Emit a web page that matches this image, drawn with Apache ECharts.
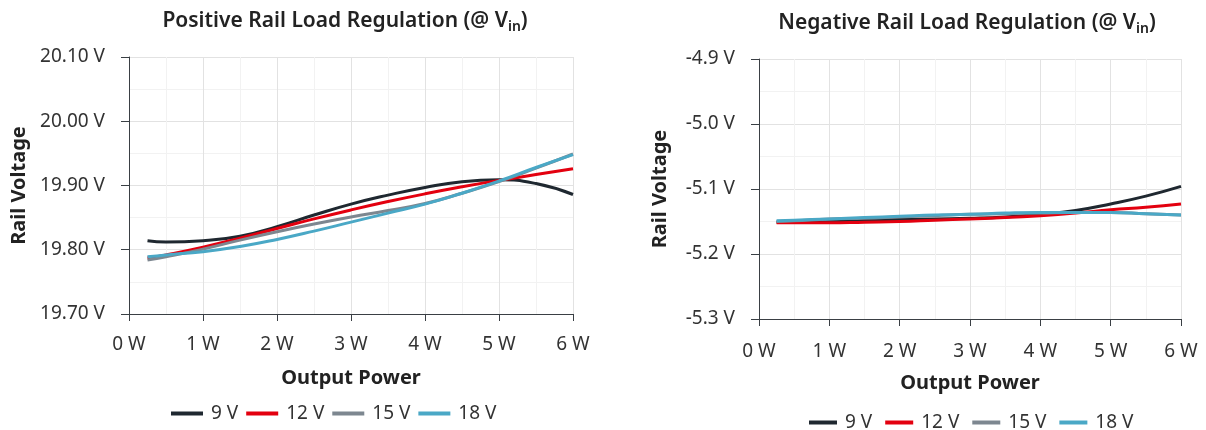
<!DOCTYPE html>
<html>
<head>
<meta charset="utf-8">
<script src="https://cdn.jsdelivr.net/npm/echarts@6/dist/echarts.min.js"></script>
<style>
  html, body { margin: 0; padding: 0; background: #fff; }
  #chart { width: 1206px; height: 430px; }
</style>
</head>
<body>
<div id="chart"></div>
<script>
// output power (W) sampled along the curves
const power = [0.25, 0.5, 1, 1.5, 2, 2.5, 3, 3.5, 4, 4.5, 5, 5.5, 6];
const seriesNames = ['9 V', '12 V', '15 V', '18 V'];
const colors = ['#1f2830', '#e3000f', '#7d8790', '#4aa8c6'];

// positive rail (V)
const pos9 = [19.814, 19.812, 19.814, 19.821, 19.836, 19.854, 19.871, 19.885, 19.897, 19.906, 19.909, 19.903, 19.886];
const pos12 = [19.787, 19.792, 19.804, 19.818, 19.833, 19.848, 19.862, 19.875, 19.887, 19.898, 19.908, 19.917, 19.926];
const pos15 = [19.784, 19.789, 19.801, 19.815, 19.828, 19.840, 19.851, 19.861, 19.872, 19.888, 19.906, 19.927, 19.949];
const pos18 = [19.789, 19.792, 19.797, 19.805, 19.816, 19.829, 19.843, 19.857, 19.871, 19.888, 19.907, 19.928, 19.948];

// negative rail (V)
const neg9 = [-5.151, -5.151, -5.150, -5.148, -5.147, -5.146, -5.145, -5.143, -5.139, -5.133, -5.123, -5.111, -5.096];
const neg12 = [-5.152, -5.152, -5.152, -5.151, -5.150, -5.148, -5.146, -5.144, -5.141, -5.137, -5.132, -5.128, -5.123];
const neg15 = [-5.150, -5.149, -5.146, -5.145, -5.143, -5.141, -5.139, -5.138, -5.137, -5.136, -5.136, -5.138, -5.140];
const neg18 = [-5.149, -5.148, -5.146, -5.144, -5.142, -5.140, -5.139, -5.137, -5.136, -5.136, -5.136, -5.138, -5.140];

const font = 'Noto Sans';
const txt = '#333';

function pairs(vals) {
  return power.map((p, i) => [p, vals[i]]);
}

function xAxisCfg(idx) {
  return {
    type: 'value', gridIndex: idx, min: 0, max: 6, interval: 1,
    name: 'Output Power', nameLocation: 'middle', nameGap: 54,
    nameTextStyle: { fontFamily: font, fontSize: 20, fontWeight: 'bold', color: '#222' },
    axisLine: { lineStyle: { color: '#3a3f44', width: 1 } },
    axisTick: { show: true, length: 7, lineStyle: { color: '#3a3f44' } },
    axisLabel: { formatter: '{value} W', fontFamily: font, fontSize: 19, color: txt, margin: idx === 0 ? 21 : 23 },
    splitLine: { show: true, lineStyle: { color: '#e2e2e2' } },
    minorTick: { show: false, splitNumber: 2 },
    minorSplitLine: { show: true, lineStyle: { color: '#f2f2f2' } }
  };
}

function yAxisCfg(idx, min, max, digits) {
  return {
    type: 'value', gridIndex: idx, min: min, max: max, interval: 0.1,
    name: 'Rail Voltage', nameLocation: 'middle', nameGap: idx === 0 ? 100 : 89,
    nameTextStyle: { fontFamily: font, fontSize: 20, fontWeight: 'bold', color: '#222' },
    axisLine: { show: true, lineStyle: { color: '#3a3f44', width: 1 } },
    axisTick: { show: true, length: 8, lineStyle: { color: '#3a3f44' } },
    axisLabel: { formatter: v => v.toFixed(digits) + ' V', fontFamily: font, fontSize: 19, color: txt, margin: 24 },
    splitLine: { show: true, lineStyle: { color: '#e2e2e2' } },
    minorTick: { show: false, splitNumber: 2 },
    minorSplitLine: { show: true, lineStyle: { color: '#f2f2f2' } }
  };
}

function lineSeries(name, vals, idx, color) {
  return {
    name: name, type: 'line', xAxisIndex: idx, yAxisIndex: idx,
    data: pairs(vals), smooth: true, symbol: 'none',
    lineStyle: { width: 3, color: color }, itemStyle: { color: color }
  };
}

const chart = echarts.init(document.getElementById('chart'));
const titleStyle = {
  fontFamily: font, fontSize: 21, fontWeight: 600, color: '#222',
  rich: { sub: { fontFamily: font, fontSize: 14, fontWeight: 600, color: '#222', padding: [12, 0, 0, 0] } }
};
const legendCfg = (left, top, w, gap) => ({
  left: left, top: top, data: seriesNames, icon: 'rect', itemWidth: w, itemHeight: 4, itemGap: gap,
  textStyle: { fontFamily: font, fontSize: 19, color: txt, padding: [0, 0, 0, 3] }
});

chart.setOption({
  animation: false,
  title: [
    { text: 'Positive Rail Load Regulation (@ V{sub|in})', left: 340, top: 3, textAlign: 'center', textStyle: titleStyle },
    { text: 'Negative Rail Load Regulation (@ V{sub|in})', left: 962, top: 5, textAlign: 'center', textStyle: titleStyle }
  ],
  legend: [legendCfg(166, 399, 32, 8), legendCfg(804, 408, 28, 13)],
  grid: [
    { left: 129, top: 57, width: 444, height: 257 },
    { left: 759, top: 59, width: 422, height: 260 }
  ],
  xAxis: [xAxisCfg(0), xAxisCfg(1)],
  yAxis: [yAxisCfg(0, 19.7, 20.1, 2), yAxisCfg(1, -5.3, -4.9, 1)],
  series: [
    lineSeries('9 V', pos9, 0, colors[0]),
    lineSeries('12 V', pos12, 0, colors[1]),
    lineSeries('15 V', pos15, 0, colors[2]),
    lineSeries('18 V', pos18, 0, colors[3]),
    lineSeries('9 V', neg9, 1, colors[0]),
    lineSeries('12 V', neg12, 1, colors[1]),
    lineSeries('15 V', neg15, 1, colors[2]),
    lineSeries('18 V', neg18, 1, colors[3])
  ]
});
</script>
</body>
</html>
